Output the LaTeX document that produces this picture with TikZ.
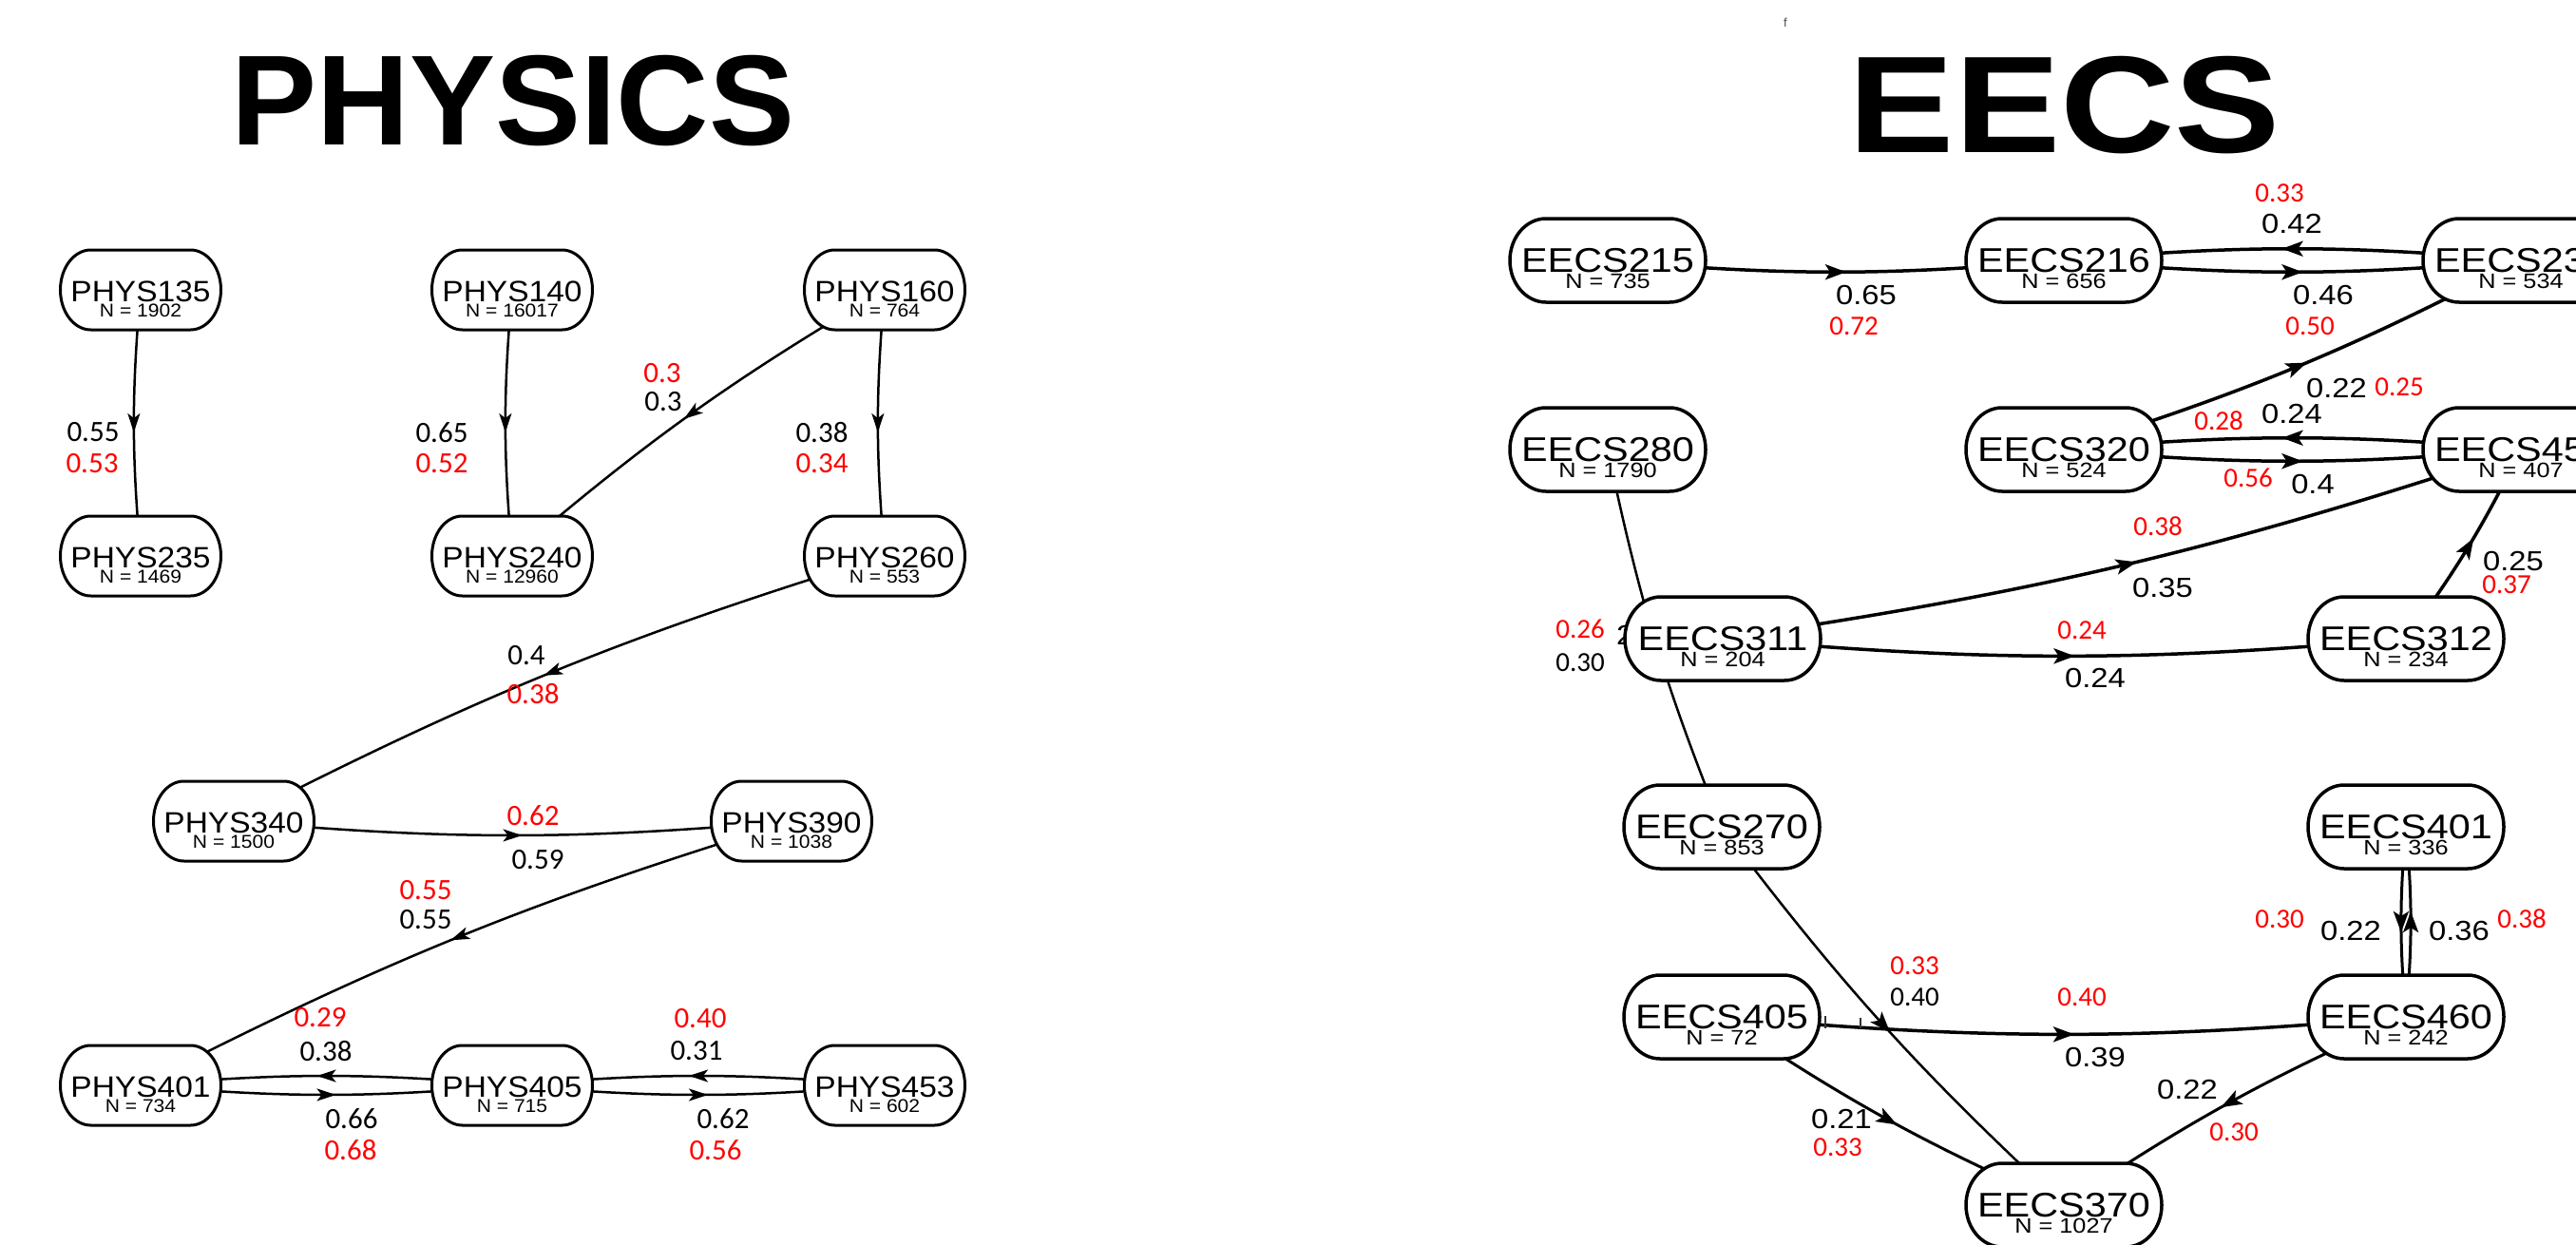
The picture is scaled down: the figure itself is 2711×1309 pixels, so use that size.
\documentclass[tikz,border=0pt]{standalone}
\usepackage{fontspec}
\setmainfont{Liberation Sans}
\newfontfamily\calfont{Carlito}
\usetikzlibrary{arrows.meta,decorations.markings,calc}
\definecolor{lblred}{RGB}{255,0,0}
\tikzset{
  pbox/.style={rectangle, minimum width=169pt, minimum height=84pt, inner sep=0pt},
  ebox/.style={rectangle, minimum width=206pt, minimum height=88pt, inner sep=0pt},
  pedge/.style={line width=2.5pt, bend right=5, postaction={decorate},
    decoration={markings, mark=at position 0.5 with {\arrow[xshift=10pt]{Stealth[length=20pt,width=13pt,inset=5pt]}}}},
  eedge/.style={line width=3.5pt, bend right=5, postaction={decorate},
    decoration={markings, mark=at position 0.5 with {\arrow[xshift=11pt]{Stealth[length=22pt,width=16pt,inset=5pt]}}}},
  plab/.style={font=\calfont\fontsize{31}{31}\selectfont, inner sep=0pt},
  pred/.style={plab, text=lblred},
  ered/.style={font=\calfont\fontsize{29}{29}\selectfont, text=lblred, inner sep=0pt},
  eblk/.style={font=\fontsize{29}{29}\selectfont, inner sep=0pt},
  eblkc/.style={font=\calfont\fontsize{29}{29}\selectfont, inner sep=0pt},
  title/.style={font=\bfseries\fontsize{135}{135}\selectfont, anchor=base, inner sep=0pt},
}
\newcommand{\sx}[1]{\scalebox{1.13}[1]{#1}}
\newcommand{\outline}[5]{%
  \filldraw[draw=black, fill=white, line width=#5] let \p1=(#1.center) in
   ({\x1-#2+#4},{\y1+#3}) -- ({\x1+#2-#4},{\y1+#3})
   .. controls ({\x1+#2-#4+0.5523*#4},{\y1+#3}) and ({\x1+#2},{\y1+0.5523*#3}) .. ({\x1+#2},{\y1})
   .. controls ({\x1+#2},{\y1-0.5523*#3}) and ({\x1+#2-#4+0.5523*#4},{\y1-#3}) .. ({\x1+#2-#4},{\y1-#3})
   -- ({\x1-#2+#4},{\y1-#3})
   .. controls ({\x1-#2+#4-0.5523*#4},{\y1-#3}) and ({\x1-#2},{\y1-0.5523*#3}) .. ({\x1-#2},{\y1})
   .. controls ({\x1-#2},{\y1+0.5523*#3}) and ({\x1-#2+#4-0.5523*#4},{\y1+#3}) .. cycle;}
\newcommand{\mkP}[3]{\node[pbox] (#1) at (#2,-#3) {};}
\newcommand{\mkE}[3]{\node[ebox] (#1) at (#2,-#3) {};}
\newcommand{\drawP}[3]{%
  \outline{#1}{84.5}{42}{32}{3pt}
  \node[anchor=base, font=\fontsize{31}{31}\selectfont, inner sep=0pt] (#1-t) at ($(#1.center)+(0,-12)$) {\scalebox{1.08}[1]{#2}};
  \node[anchor=base, font=\fontsize{19.5}{19.5}\selectfont, inner sep=0pt] (#1-n) at ($(#1.center)+(0,-28)$) {\scalebox{1.08}[1]{N = #3}};}
\newcommand{\drawE}[3]{%
  \outline{#1}{103}{44}{38}{3.5pt}
  \node[anchor=base, font=\fontsize{36}{36}\selectfont, inner sep=0pt] (#1-t) at ($(#1.center)+(0,-12)$) {\scalebox{1.15}[1]{#2}};
  \node[anchor=base, font=\fontsize{22}{22}\selectfont, inner sep=0pt] (#1-n) at ($(#1.center)+(0,-29)$) {\scalebox{1.15}[1]{N = #3}};}
\begin{document}
\begin{tikzpicture}[x=1pt,y=1pt]
\useasboundingbox (0,0) rectangle (2711,-1309);
\clip (0,0) rectangle (2711,-1309);
\fill[white] (0,0) rectangle (2711,-1309);
% titles
\node[title] (tphys) at (540,-152) {PHYSICS};
\node[title, font=\bfseries\fontsize{145}{145}\selectfont] (teecs) at (2173,-160) {\scalebox{1.15}[1]{EECS}};
\node[font=\fontsize{13}{13}\selectfont, text=black!70, inner sep=0pt] (stray) at (1879,-24) {f};
% physics nodes (positions)
\mkP{P135}{148}{305}\mkP{P140}{539}{305}\mkP{P160}{931}{305}
\mkP{P235}{148}{585}\mkP{P240}{539}{585}\mkP{P260}{931}{585}
\mkP{P340}{246}{864}\mkP{P390}{833}{864}
\mkP{P401}{148}{1142}\mkP{P405}{539}{1142}\mkP{P453}{931}{1142}
% eecs nodes (positions)
\mkE{E215}{1692}{274}\mkE{E216}{2172}{274}\mkE{E230}{2653}{274}
\mkE{E280}{1692}{473}\mkE{E320}{2172}{473}\mkE{E451}{2653}{473}
\mkE{E311}{1813}{672}\mkE{E312}{2532}{672}
\mkE{E270}{1812}{870}\mkE{E401}{2532}{870}
\mkE{E405}{1812}{1070}\mkE{E460}{2532}{1070}
\mkE{E370}{2172}{1268}
% physics edges
\draw[pedge] (P135.center) to (P235.center);
\draw[pedge] (P140.center) to (P240.center);
\draw[pedge] (P160.center) to (P240.center);
\draw[pedge] (P160.center) to (P260.center);
\draw[pedge] (P260.center) to (P340.center);
\draw[pedge] (P340.center) to (P390.center);
\draw[pedge] (P390.center) to (P401.center);
\draw[pedge] (P405.center) to (P401.center);
\draw[pedge] (P401.center) to (P405.center);
\draw[pedge] (P453.center) to (P405.center);
\draw[pedge] (P405.center) to (P453.center);
% eecs edges
\draw[eedge] (E215.center) to (E216.center);
\draw[eedge] (E230.center) to (E216.center);
\draw[eedge] (E216.center) to (E230.center);
\draw[eedge] (E320.center) to (E230.center);
\draw[eedge] (E451.center) to (E320.center);
\draw[eedge] (E320.center) to (E451.center);
\draw[eedge] (E311.center) to (E451.center);
\draw[eedge] (E311.center) to (E312.center);
\draw[eedge] (E312.center) to (E451.center);
\draw[eedge, line width=2.5pt] (E280.center) to (E270.center);
\draw[eedge, line width=2.5pt] (E270.center) to (E370.center);
\draw[eedge] (E405.center) to (E460.center);
\draw[eedge, line width=3pt] (E405.center) to (E370.center);
\draw[eedge, line width=3pt] (E460.center) to (E370.center);
\draw[eedge, line width=3pt] (E401.center) to (E460.center);
\draw[eedge, line width=3pt] (E460.center) to (E401.center);
% partly hidden label
\node[eblk, anchor=west] (hid2) at (1701,-668) {\sx{2}};
% node boxes
\drawP{P135}{PHYS135}{1902}\drawP{P140}{PHYS140}{16017}\drawP{P160}{PHYS160}{764}
\drawP{P235}{PHYS235}{1469}\drawP{P240}{PHYS240}{12960}\drawP{P260}{PHYS260}{553}
\drawP{P340}{PHYS340}{1500}\drawP{P390}{PHYS390}{1038}
\drawP{P401}{PHYS401}{734}\drawP{P405}{PHYS405}{715}\drawP{P453}{PHYS453}{602}
\drawE{E215}{EECS215}{735}\drawE{E216}{EECS216}{656}\drawE{E230}{EECS230}{534}
\drawE{E280}{EECS280}{1790}\drawE{E320}{EECS320}{524}\drawE{E451}{EECS451}{407}
\drawE{E311}{EECS311}{204}\drawE{E312}{EECS312}{234}
\drawE{E270}{EECS270}{853}\drawE{E401}{EECS401}{336}
\drawE{E405}{EECS405}{72}\drawE{E460}{EECS460}{242}
\drawE{E370}{EECS370}{1027}
% small fragments right of EECS405
\draw[line width=1.5pt, black!80] (1921,-1069) -- (1921,-1082);
\draw[line width=1.5pt, black!80] (1958,-1071) -- (1958,-1082);
% physics labels
\node[plab] (a1) at (98,-455) {0.55};   \node[pred] (a2) at (97,-488) {0.53};
\node[plab] (a3) at (465,-455) {0.65};  \node[pred] (a4) at (465,-488) {0.52};
\node[pred] (a5) at (697,-393) {0.3};   \node[plab] (a6) at (698,-423) {0.3};
\node[plab] (a7) at (865,-455) {0.38};  \node[pred] (a8) at (865,-488) {0.34};
\node[plab] (a9) at (554,-690) {0.4};   \node[pred] (a10) at (561,-730) {0.38};
\node[pred] (a11) at (561,-858) {0.62}; \node[plab] (a12) at (566,-905) {0.59};
\node[pred] (a13) at (448,-937) {0.55}; \node[plab] (a14) at (448,-968) {0.55};
\node[pred] (a15) at (337,-1071) {0.29};\node[plab] (a16) at (343,-1106) {0.38};
\node[plab] (a17) at (370,-1177) {0.66};\node[pred] (a18) at (369,-1210) {0.68};
\node[pred] (a19) at (737,-1072) {0.40};\node[plab] (a20) at (733,-1106) {0.31};
\node[plab] (a21) at (761,-1177) {0.62};\node[pred] (a22) at (753,-1210) {0.56};
% eecs labels
\node[eblk] (b1) at (1964,-311) {\sx{0.65}};  \node[ered] (b2) at (1951,-343) {0.72};
\node[ered] (b3) at (2399,-203) {0.33};       \node[eblk] (b4) at (2412,-236) {\sx{0.42}};
\node[eblk] (b5) at (2445,-311) {\sx{0.46}};  \node[ered] (b6) at (2431,-343) {0.50};
\node[eblk] (b7) at (2459,-409) {\sx{0.22}};  \node[ered] (b8) at (2525,-407) {0.25};
\node[ered] (b9) at (2335,-443) {0.28};       \node[eblk] (b10) at (2412,-436) {\sx{0.24}};
\node[ered] (b11) at (2366,-503) {0.56};      \node[eblk] (b12) at (2434,-510) {\sx{0.4}};
\node[ered] (b13) at (2271,-554) {0.38};      \node[eblk] (b14) at (2276,-619) {\sx{0.35}};
\node[ered] (b15) at (2191,-663) {0.24};      \node[eblk] (b16) at (2205,-714) {\sx{0.24}};
\node[eblk] (b17) at (2645,-591) {\sx{0.25}}; \node[ered] (b18) at (2638,-615) {0.37};
\node[ered] (b19) at (1663,-662) {0.26};      \node[eblkc] (b20) at (1663,-697) {0.30};
\node[ered] (b21) at (2015,-1016) {0.33};     \node[eblkc] (b22) at (2015,-1049) {0.40};
\node[ered] (b23) at (2191,-1049) {0.40};     \node[eblk] (b24) at (2205,-1113) {\sx{0.39}};
\node[eblk] (b25) at (1938,-1178) {\sx{0.21}};\node[ered] (b26) at (1934,-1207) {0.33};
\node[eblk] (b27) at (2302,-1147) {\sx{0.22}};\node[ered] (b28) at (2351,-1191) {0.30};
\node[ered] (b29) at (2399,-967) {0.30};      \node[eblk] (b30) at (2474,-980) {\sx{0.22}};
\node[eblk] (b31) at (2588,-980) {\sx{0.36}}; \node[ered] (b32) at (2654,-967) {0.38};
\end{tikzpicture}
\end{document}
